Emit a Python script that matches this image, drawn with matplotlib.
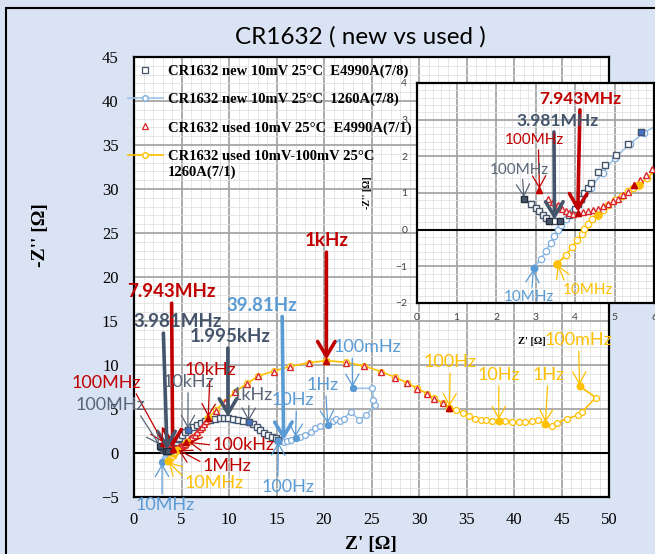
import matplotlib.pyplot as plt
from matplotlib.patches import Rectangle
from matplotlib.lines import Line2D
from matplotlib.ticker import MultipleLocator

# CR1632 new, E4990A (open squares)
new_e4990_x = [2.71, 2.88, 3.01, 3.10, 3.18, 3.27, 3.33, 3.48, 3.63, 3.86, 3.99, 4.07, 4.16, 4.24,
               4.33, 4.41, 4.58, 4.75, 5.05, 5.33, 5.67, 6.2, 6.6, 7.0, 7.5, 8.0, 8.5, 9.0, 9.5,
               9.9, 10.4, 10.9, 11.5, 12.06, 12.5, 12.9, 13.3, 13.7, 14.1, 14.5, 14.9, 15.2]
new_e4990_y = [0.85, 0.71, 0.60, 0.50, 0.39, 0.31, 0.25, 0.23, 0.25, 0.39, 0.57, 0.71, 0.85, 0.99,
               1.14, 1.26, 1.56, 1.76, 2.05, 2.33, 2.66, 2.95, 3.2, 3.42, 3.62, 3.8, 3.9, 3.96, 3.97,
               3.95, 3.88, 3.78, 3.65, 3.49, 3.25, 2.95, 2.6, 2.3, 2.05, 1.85, 1.65, 1.5]
new_e4990_marked = [0, 6, 8]
new_e4990_marked_blue = [20, 33]

# CR1632 new, 1260A (light blue line)
new_1260_x = [2.95, 3.14, 3.27, 3.38, 3.48, 3.56, 3.65, 3.78, 3.95, 4.15, 4.40, 4.70, 5.00, 5.40,
              5.75, 6.6, 7.5, 8.5, 9.5, 10.5, 11.5, 12.5, 13.3, 14.0, 14.6, 15.0, 15.2, 15.45,
              15.75, 16.1, 16.5, 17.0, 17.5, 18.0, 18.6, 19.1, 19.6, 20.4, 20.9, 21.3, 21.7, 22.1,
              22.8, 23.7, 24.4, 25.4, 25.2, 25.1, 23.0]
new_1260_y = [-1.05, -0.79, -0.57, -0.36, -0.16, -0.02, 0.12, 0.30, 0.52, 0.80, 1.15, 1.55, 1.95,
              2.35, 2.65, 3.15, 3.6, 3.9, 3.95, 3.8, 3.6, 3.25, 2.7, 2.1, 1.7, 1.45, 1.38, 1.32,
              1.3, 1.35, 1.5, 1.7, 1.85, 2.1, 2.4, 2.8, 3.1, 3.2, 3.6, 3.9, 3.6, 3.9, 4.7, 3.75,
              4.3, 5.45, 6.0, 7.35, 7.35]
new_1260_marked = [0, 26, 31, 37, 48]

# CR1632 used, E4990A (open triangles)
used_e4990_x = [3.10, 3.31, 3.44, 3.57, 3.67, 3.76, 3.84, 3.95, 4.07, 4.20, 4.33, 4.45, 4.58, 4.71,
                4.84, 4.96, 5.10, 5.22, 5.35, 5.50, 5.65, 5.79, 5.94, 6.15, 6.4, 6.65, 6.9, 7.15,
                7.4, 7.6, 7.8, 8.6, 9.6, 10.65, 11.9, 13.1, 14.7, 16.45, 18.4, 20.25, 22.3, 24.2,
                26.0, 27.5, 28.7, 29.8, 30.85, 31.6, 32.5, 33.2]
used_e4990_y = [1.08, 0.85, 0.75, 0.66, 0.57, 0.50, 0.46, 0.44, 0.45, 0.48, 0.50, 0.53, 0.57, 0.65,
                0.71, 0.79, 0.85, 0.94, 1.03, 1.23, 1.35, 1.50, 1.65, 1.85, 2.1, 2.4, 2.7, 3.0,
                3.3, 3.65, 3.95, 4.8, 5.8, 6.9, 7.85, 8.7, 9.25, 9.8, 10.2, 10.45, 10.25, 9.85,
                9.2, 8.55, 7.95, 7.3, 6.7, 6.15, 5.65, 5.15]
used_e4990_marked = [0, 8, 19, 30, 39, 49]

# CR1632 used, 1260A (yellow line)
used_1260_x = [3.55, 3.78, 3.93, 4.06, 4.17, 4.24, 4.33, 4.43, 4.57, 4.71, 4.84, 5.01, 5.18, 5.35,
               5.48, 5.63, 5.82, 6.0, 6.5, 7.0, 7.4, 7.8, 8.6, 9.6, 10.65, 11.9, 13.1, 14.7, 16.45,
               18.4, 20.25, 22.3, 24.2, 26.0, 27.5, 28.7, 29.8, 30.85, 31.6, 32.5, 33.2, 33.9,
               34.6, 35.3, 35.9, 36.5, 37.1, 37.7, 38.4, 39.1, 39.8, 40.5, 41.2, 41.9, 42.5, 43.3,
               44.0, 44.5, 45.6, 46.7, 47.2, 48.6, 46.9]
used_1260_y = [-0.93, -0.68, -0.47, -0.29, -0.11, 0.03, 0.16, 0.30, 0.39, 0.53, 0.67, 0.80, 0.92,
               1.05, 1.14, 1.23, 1.40, 1.6, 2.1, 2.7, 3.3, 4.0, 4.85, 5.85, 6.95, 7.9, 8.75, 9.3,
               9.85, 10.25, 10.5, 10.3, 9.9, 9.25, 8.6, 8.0, 7.35, 6.75, 6.2, 5.7, 5.15, 4.9, 4.6,
               4.2, 3.9, 3.75, 3.7, 3.67, 3.67, 3.67, 3.56, 3.5, 3.5, 3.6, 3.75, 3.33, 3.1, 3.4,
               3.9, 4.3, 4.7, 6.3, 7.6]
used_1260_marked = [0, 8, 15, 21, 30, 40, 48, 55, 62]

legend_labels = ['CR1632 new 10mV 25°C  E4990A(7/8)',
                 'CR1632 new 10mV 25°C  1260A(7/8)',
                 'CR1632 used 10mV 25°C  E4990A(7/1)',
                 'CR1632 used 10mV-100mV 25°C']
legend_extra = '1260A(7/1)'

DARK = '#44546A'
DARK_TXT = '#5A6678'
RED = '#C00000'
TRI = '#D9262B'
BLUE = '#5B9BD5'
BLUE_LINE = '#9DC3E6'
BLUE_MK = '#7EAEDF'
YEL = '#FFC000'
SERIF = 'Liberation Serif'
SANS = 'Lato'

series = {
    'ne': (new_e4990_x, new_e4990_y),
    'nb': (new_1260_x, new_1260_y),
    'ue': (used_e4990_x, used_e4990_y),
    'ub': (used_1260_x, used_1260_y),
}

W, H = 655, 554
fig = plt.figure(figsize=(W / 100, H / 100), dpi=100)
fig.patch.set_facecolor('#DAE3F3')


def px_box(l, t, r, b):
    return [l / W, 1 - b / H, (r - l) / W, (b - t) / H]


ax = fig.add_axes(px_box(134, 57, 609, 497))
ins = fig.add_axes(px_box(417, 83, 654, 303))

fig.add_artist(Rectangle((6 / W, -0.1), 2, 1.1 - 8 / H, transform=fig.transFigure,
                         fill=False, ec='black', lw=1.5))


def style_axes(a, major, minor, xlim, ylim, size, family, pad):
    a.set_facecolor('white')
    a.set_xlim(*xlim)
    a.set_ylim(*ylim)
    a.xaxis.set_major_locator(MultipleLocator(major))
    a.yaxis.set_major_locator(MultipleLocator(major))
    a.xaxis.set_minor_locator(MultipleLocator(minor))
    a.yaxis.set_minor_locator(MultipleLocator(minor))
    a.set_axisbelow(True)
    a.grid(which='major', color='#A6A6A6', lw=1.3)
    a.grid(which='minor', color='#E2E2E2', lw=0.6)
    a.tick_params(which='both', length=0, pad=pad, labelsize=size)
    for lab in a.get_xticklabels() + a.get_yticklabels():
        lab.set_family(family)
    a.axhline(0, color='black', lw=1.5, zorder=1)
    for sp in a.spines.values():
        sp.set_color('black')
        sp.set_linewidth(1.6)


style_axes(ax, 5, 1, (0, 50), (-5, 45), 12, SERIF, 11)
style_axes(ins, 1, 0.2, (0, 6), (-2, 4), 7.5, SANS, 7)
for lab in ins.get_xticklabels() + ins.get_yticklabels():
    lab.set_color('#404040')


def draw_data(a, ms):
    x, y = series['nb']
    a.plot(x, y, '-o', color=BLUE_LINE, lw=1.2, ms=ms, mfc='white', mec=BLUE_MK, mew=0.9, zorder=2)
    a.plot([x[i] for i in new_1260_marked], [y[i] for i in new_1260_marked], 'o',
           ms=ms, color=BLUE, zorder=4)
    x, y = series['ub']
    a.plot(x, y, '-o', color=YEL, lw=1.2, ms=ms, mfc='white', mec=YEL, mew=0.9, zorder=2)
    a.plot([x[i] for i in used_1260_marked], [y[i] for i in used_1260_marked], 'o',
           ms=ms + 0.5, color=YEL, zorder=4)
    x, y = series['ne']
    a.plot(x, y, 's', ms=ms, mfc='white', mec=DARK, mew=1.0, zorder=3)
    a.plot([x[i] for i in new_e4990_marked], [y[i] for i in new_e4990_marked], 's',
           ms=ms, mfc=DARK, mec='#222A35', mew=0.8, zorder=4)
    a.plot([x[i] for i in new_e4990_marked_blue], [y[i] for i in new_e4990_marked_blue], 's',
           ms=ms, mfc='#4472C4', mec=DARK, mew=0.8, zorder=4)
    x, y = series['ue']
    a.plot(x, y, '^', ms=ms, mfc='white', mec=TRI, mew=1.0, zorder=3)
    a.plot([x[i] for i in used_e4990_marked], [y[i] for i in used_e4990_marked], '^',
           ms=ms, mfc=RED, mec=RED, zorder=4)


draw_data(ax, 4.2)
draw_data(ins, 4.6)

handles = [
    Line2D([], [], ls='none', marker='s', ms=4, mfc='white', mec=DARK, mew=0.9),
    Line2D([], [], color=BLUE_LINE, lw=1.2, marker='o', ms=4, mfc='white', mec=BLUE_MK),
    Line2D([], [], ls='none', marker='^', ms=4.5, mfc='white', mec=TRI, mew=0.9),
    Line2D([], [], color=YEL, lw=1.2, marker='o', ms=4, mfc='white', mec=YEL),
]
leg = ax.legend(handles, legend_labels, loc='upper left', bbox_to_anchor=(-0.013, 0.983),
                frameon=False, borderpad=0, borderaxespad=0, handlelength=2.4,
                handletextpad=0.35, labelspacing=1.02,
                prop={'family': SERIF, 'weight': 'bold', 'size': 10.5})
ax.text(0.0716, 0.737, legend_extra, transform=ax.transAxes, ha='left', va='center',
        family=SERIF, fontweight='bold', fontsize=10.5, zorder=6)


def pt(key, i):
    x, y = series[key]
    return (x[i], y[i])


def note(a, text, tip, xytext, color, bold=False, size=13, rel=(0.5, 0.5)):
    if bold:
        style, lw, ms = '->,head_length=0.75,head_width=0.45', 2.6, 14
    else:
        style, lw, ms = '->,head_length=0.7,head_width=0.4', 0.9, 12
    a.annotate(text, xy=tip, xytext=xytext, ha='center', va='center', color=color,
               fontsize=size, fontweight='bold' if bold else 'normal', family=SANS,
               annotation_clip=False, zorder=6,
               arrowprops=dict(arrowstyle=style, color=color, lw=lw, mutation_scale=ms,
                               relpos=rel, shrinkA=0, shrinkB=1))


# labels on the main plot
note(ax, '7.943MHz', pt('ue', 8), (3.95, 18.3), RED, bold=True, size=13.5)
note(ax, '3.981MHz', pt('ne', 7), (4.64, 14.9), DARK, bold=True, size=13.5, rel=(0.33, 0.5))
note(ax, '1.995kHz', pt('ne', 29), (10.13, 13.2), DARK, bold=True, size=13.5, rel=(0.47, 0.5))
note(ax, '39.81Hz', pt('nb', 28), (13.5, 16.8), BLUE, bold=True, size=13.5, rel=(0.78, 0.5))
note(ax, '1kHz', pt('ue', 39), (20.25, 24.1), RED, bold=True, size=13.5)
note(ax, '100MHz', pt('ue', 0), (-2.95, 7.95), RED, rel=(0.9, 0.1))
note(ax, '100MHz', pt('ne', 0), (-2.53, 5.45), DARK_TXT, rel=(0.9, 0.1))
note(ax, '10kHz', pt('ne', 20), (5.70, 8.07), DARK_TXT)
note(ax, '10kHz', pt('ue', 30), (8.02, 9.43), RED)
note(ax, '1kHz', pt('ne', 33), (12.45, 6.6), DARK_TXT, rel=(0.42, 0.5))
note(ax, '100kHz', pt('ub', 15), (11.5, 0.9), RED, rel=(0.0, 0.5))
note(ax, '1MHz', pt('ub', 8), (9.8, -1.48), RED, rel=(0.0, 0.7))
note(ax, '10MHz', pt('ub', 0), (8.44, -3.4), YEL, rel=(0.0, 0.8))
note(ax, '10MHz', pt('nb', 0), (3.27, -5.9), BLUE, rel=(0.45, 0.5))
note(ax, '100Hz', pt('nb', 26), (16.24, -3.86), BLUE, rel=(0.3, 0.5))
note(ax, '10Hz', pt('nb', 31), (16.67, 6.0), BLUE, rel=(0.6, 0.5))
note(ax, '1Hz', pt('nb', 37), (19.8, 7.7), BLUE, rel=(0.6, 0.5))
note(ax, '100mHz', pt('nb', 48), (24.6, 12.0), BLUE, rel=(0.27, 0.5))
note(ax, '100Hz', pt('ub', 40), (33.3, 10.3), YEL)
note(ax, '10Hz', pt('ub', 48), (38.4, 8.86), YEL)
note(ax, '1Hz', pt('ub', 55), (43.6, 8.86), YEL)
note(ax, '100mHz', pt('ub', 62), (46.8, 12.8), YEL)

# labels on the zoomed inset
note(ins, '7.943MHz', pt('ue', 8), (4.13, 3.56), RED, bold=True, size=12.5)
note(ins, '3.981MHz', pt('ne', 7), (3.57, 2.96), DARK, bold=True, size=12.5, rel=(0.45, 0.5))
note(ins, '100MHz', pt('ue', 0), (2.98, 2.44), RED, size=11, rel=(0.56, 0.5))
note(ins, '100MHz', pt('ne', 0), (2.58, 1.64), DARK_TXT, size=11, rel=(0.55, 0.5))
note(ins, '10MHz', pt('nb', 0), (2.83, -1.84), BLUE, size=11, rel=(0.55, 0.5))
note(ins, '10MHz', pt('ub', 0), (4.34, -1.64), YEL, size=11, rel=(0.1, 0.5))

fig.text(360 / W, 1 - 37 / H, 'CR1632 ( new vs used )', ha='center', va='center',
         family=SANS, fontsize=17.5)
fig.text(40 / W, 1 - 235 / H, "-Z'' [Ω]", rotation=90, ha='center', va='center',
         family=SERIF, fontweight='bold', fontsize=14)
fig.text(371 / W, 1 - 545 / H, "Z' [Ω]", ha='center', va='center',
         family=SERIF, fontweight='bold', fontsize=14)
fig.text(368 / W, 1 - 193 / H, "-Z'' [Ω]", rotation=90, ha='center', va='center',
         family=SERIF, fontweight='bold', fontsize=7)
fig.text(532 / W, 1 - 341 / H, "Z' [Ω]", ha='center', va='center',
         family=SERIF, fontweight='bold', fontsize=7.5)

fig.savefig('out.png', dpi=100, facecolor=fig.get_facecolor())
